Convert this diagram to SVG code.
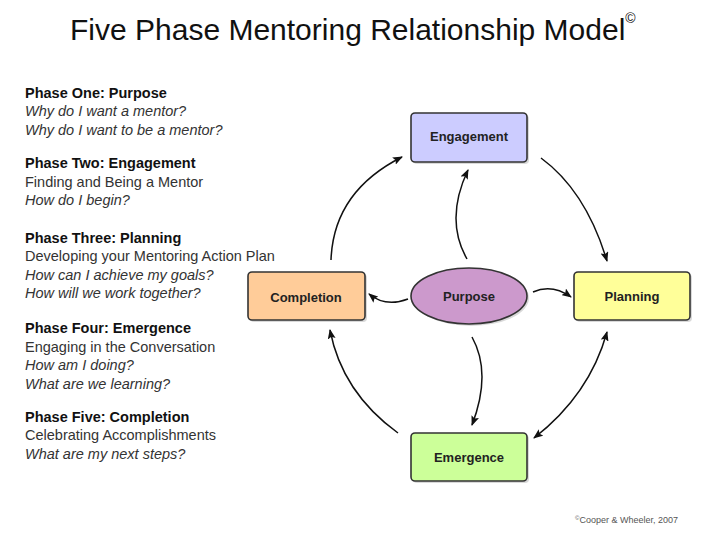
<svg xmlns="http://www.w3.org/2000/svg" width="720" height="540" viewBox="0 0 720 540">
<defs>
<marker id="ah" viewBox="0 0 10 8" refX="9" refY="4" markerWidth="10" markerHeight="8" markerUnits="userSpaceOnUse" orient="auto-start-reverse">
<path d="M0,0 L10,4 L0,8 L2,4 z" fill="#111"/>
</marker>
<style>
.title{font-family:"Liberation Sans",Arial,sans-serif;font-size:30px;fill:#111}
.h{font-family:"Liberation Sans",Arial,sans-serif;font-size:14.5px;font-weight:bold;fill:#111}
.t{font-family:"Liberation Sans",Arial,sans-serif;font-size:14.5px;fill:#333}
.i{font-family:"Liberation Sans",Arial,sans-serif;font-size:14.5px;font-style:italic;fill:#333}
.box{stroke:#333;stroke-width:1.6}
.sh{fill:#000;opacity:0.15}
.lbl{font-family:"Liberation Sans",Arial,sans-serif;font-size:13px;font-weight:bold;fill:#222;text-anchor:middle}
.c{fill:none;stroke:#111;stroke-width:1.5}
.foot{font-family:"Liberation Sans",Arial,sans-serif;font-size:9px;fill:#555}
</style>
</defs>
<rect width="720" height="540" fill="#fff"/>
<text class="title" x="70" y="40">Five Phase Mentoring Relationship Model<tspan font-size="14" dy="-17">©</tspan></text>

<g id="legend">
<text class="h" x="25" y="98">Phase One: Purpose</text>
<text class="i" x="25" y="116">Why do I want a mentor?</text>
<text class="i" x="25" y="135">Why do I want to be a mentor?</text>
<text class="h" x="25" y="168">Phase Two: Engagement</text>
<text class="t" x="25" y="187">Finding and Being a Mentor</text>
<text class="i" x="25" y="205">How do I begin?</text>
<text class="h" x="25" y="243">Phase Three: Planning</text>
<text class="t" x="25" y="261">Developing your Mentoring Action Plan</text>
<text class="i" x="25" y="280">How can I achieve my goals?</text>
<text class="i" x="25" y="298">How will we work together?</text>
<text class="h" x="25" y="333">Phase Four: Emergence</text>
<text class="t" x="25" y="352">Engaging in the Conversation</text>
<text class="i" x="25" y="370">How am I doing?</text>
<text class="i" x="25" y="389">What are we learning?</text>
<text class="h" x="25" y="422">Phase Five: Completion</text>
<text class="t" x="25" y="440">Celebrating Accomplishments</text>
<text class="i" x="25" y="459">What are my next steps?</text>
</g>

<g id="connectors">
<path class="c" d="M331,260 Q333.5,191.5 402,157" marker-end="url(#ah)"/>
<path class="c" d="M541,158 Q586,191 607,261" marker-end="url(#ah)"/>
<path class="c" d="M607,332 Q589.5,395 534,438" marker-start="url(#ah)" marker-end="url(#ah)"/>
<path class="c" d="M398,433 Q342,392.5 330,330" marker-end="url(#ah)"/>
<path class="c" d="M467,259 Q444.5,219.5 468,170" marker-end="url(#ah)"/>
<path class="c" d="M472,337 Q492,373 472,425" marker-end="url(#ah)"/>
<path class="c" d="M533,292 Q552,283.5 571,297" marker-end="url(#ah)"/>
<path class="c" d="M408,299 Q385.5,307.5 369,294" marker-end="url(#ah)"/>
</g>

<g id="engagement">
<rect class="sh" x="413" y="115" width="116" height="49" rx="4"/>
<rect class="box" x="411" y="113" width="116" height="49" rx="4" fill="#ccccff"/>
<text class="lbl" x="469" y="141">Engagement</text>
</g>
<g id="planning">
<rect class="sh" x="576" y="274" width="116" height="48" rx="4"/>
<rect class="box" x="574" y="272" width="116" height="48" rx="4" fill="#ffff99"/>
<text class="lbl" x="632" y="301">Planning</text>
</g>
<g id="completion">
<rect class="sh" x="250" y="274" width="117" height="48" rx="4"/>
<rect class="box" x="248" y="272" width="117" height="48" rx="4" fill="#ffcc99"/>
<text class="lbl" x="306" y="302">Completion</text>
</g>
<g id="emergence">
<rect class="sh" x="413" y="435" width="116" height="48" rx="4"/>
<rect class="box" x="411" y="433" width="116" height="48" rx="4" fill="#ccff99"/>
<text class="lbl" x="469" y="462">Emergence</text>
</g>
<g id="purpose">
<ellipse class="sh" cx="471" cy="298" rx="58" ry="28"/>
<ellipse class="box" cx="469" cy="296" rx="58" ry="28" fill="#cc99cc"/>
<text class="lbl" x="469" y="301">Purpose</text>
</g>

<text class="foot" x="575" y="523"><tspan font-size="6" dy="-3">©</tspan><tspan dy="3">Cooper &amp; Wheeler, 2007</tspan></text>
</svg>
